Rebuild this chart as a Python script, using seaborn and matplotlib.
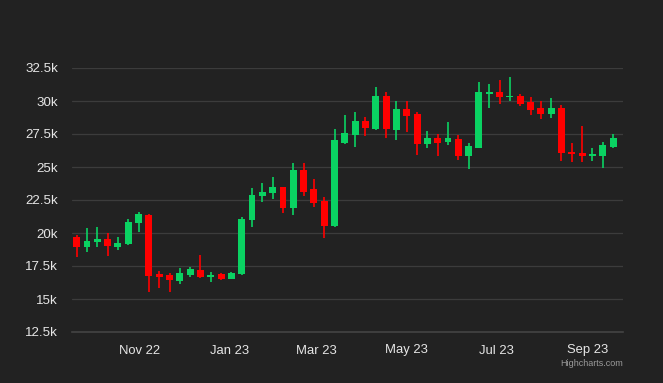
import pandas as pd
import numpy as np
import matplotlib.pyplot as plt
import matplotlib.dates as mdates
import seaborn as sns

# weekly candles, Sep 2022 - Sep 2023
weeks = pd.date_range('2022-09-19', periods=53, freq='7D')
opens = [19670, 18920, 19320, 19520, 18960, 19140, 20740, 21360, 16870, 16800,
         16390, 16840, 17200, 16690, 16870, 16540, 16890, 20990, 22800, 23010,
         23460, 21870, 24770, 23310, 22450, 20550, 26840, 27420, 28510, 27880,
         30400, 27800, 29390, 28990, 26720, 27170, 26870, 27120, 25860, 26460,
         30510, 30660, 30280, 30400, 29900, 29490, 28990, 29490, 26160, 26080,
         25830, 25860, 26540]
highs = [19850, 20360, 20480, 19980, 19720, 21040, 21570, 21450, 17120, 16950,
         17330, 17400, 18330, 17070, 16950, 17050, 21190, 23390, 23810, 24270,
         23500, 25280, 25280, 24070, 22710, 27860, 28940, 29190, 28770, 31040,
         30710, 30020, 30020, 29140, 27730, 27480, 28430, 27420, 26800, 31420,
         31290, 31590, 31840, 30510, 30330, 30000, 30250, 29700, 26800, 28130,
         26420, 26920, 27480]
lows = [18200, 18540, 18960, 18280, 18710, 19090, 20100, 15550, 15810, 15550,
        16140, 16690, 16570, 16310, 16440, 16480, 16820, 20480, 22370, 22550,
        21540, 21360, 22800, 21990, 19600, 20480, 26740, 26540, 27350, 27800,
        27220, 27050, 27670, 25910, 26460, 25860, 26670, 25530, 24850, 26420,
        29490, 29770, 30000, 29640, 28940, 28640, 28740, 25460, 25400, 25400,
        25460, 24950, 26420]
closes = [18920, 19420, 19570, 19020, 19270, 20860, 21420, 16740, 16670, 16440,
          16950, 17250, 16690, 16820, 16520, 16990, 21040, 22880, 23130, 23460,
          21870, 24770, 23130, 22300, 20550, 27050, 27600, 28510, 27930, 30400,
          27880, 29370, 28890, 26740, 27170, 26840, 27220, 25860, 26610, 30660,
          30660, 30280, 30380, 29770, 29320, 28990, 29490, 26040, 25960, 25830,
          25990, 26670, 27170]

y_ticks = [12500, 15000, 17500, 20000, 22500, 25000, 27500, 30000, 32500]
y_labels = ['12.5k', '15k', '17.5k', '20k', '22.5k', '25k', '27.5k', '30k', '32.5k']
x_ticks = ['2022-11-01', '2023-01-01', '2023-03-01', '2023-05-01', '2023-07-01', '2023-09-01']
x_labels = ['Nov 22', 'Jan 23', 'Mar 23', 'May 23', 'Jul 23', 'Sep 23']

df = pd.DataFrame({'date': weeks, 'open': opens, 'high': highs,
                   'low': lows, 'close': closes})
df['x'] = mdates.date2num(df['date'])
df['up'] = df['close'] >= df['open']

bg = '#222222'
green = '#0ad262'
red = '#ff0000'

sns.set_style('dark')
plt.rcParams['font.family'] = ['Liberation Sans', 'DejaVu Sans']

fig = plt.figure(figsize=(6.63, 3.83), dpi=100, facecolor=bg)
ax = fig.add_axes([72/663, 1 - 332/383, (623 - 72)/663, (332 - 68)/383])
ax.set_facecolor(bg)

# gridlines
for v in y_ticks[1:]:
    ax.axhline(v, color='#3c3c3c', lw=0.9, zorder=0)

colors = np.where(df['up'], green, red)
ax.vlines(df['x'], df['low'], df['high'], colors=colors, lw=1.2, zorder=2)
body_bottom = df[['open', 'close']].min(axis=1)
body_h = (df['open'] - df['close']).abs().clip(lower=60)
ax.bar(df['x'], body_h, bottom=body_bottom, width=4.7, color=colors,
       lw=0, zorder=3)

ax.set_xlim(mdates.date2num(pd.Timestamp('2022-09-15 20:00')),
            mdates.date2num(pd.Timestamp('2023-09-24 18:00')))
ax.set_ylim(12500, 32500)

ax.set_yticks(y_ticks)
ax.set_yticklabels(y_labels)
ax.set_xticks(mdates.date2num(pd.to_datetime(x_ticks)))
ax.set_xticklabels(x_labels)
ax.tick_params(axis='y', length=0, pad=10, labelsize=9.6, colors='#e6e6e6')
ax.tick_params(axis='x', length=0, pad=9, labelsize=9.4, colors='#e6e6e6')

for s in ['top', 'right', 'left']:
    ax.spines[s].set_visible(False)
ax.spines['bottom'].set_color('#444444')
ax.spines['bottom'].set_linewidth(1.2)
ax.grid(False)

fig.text(623/663, 1 - 364/383, 'Highcharts.com', ha='right', va='center',
         fontsize=6.5, color='#9a9a9a')

fig.savefig('out.png', dpi=100, facecolor=bg)
